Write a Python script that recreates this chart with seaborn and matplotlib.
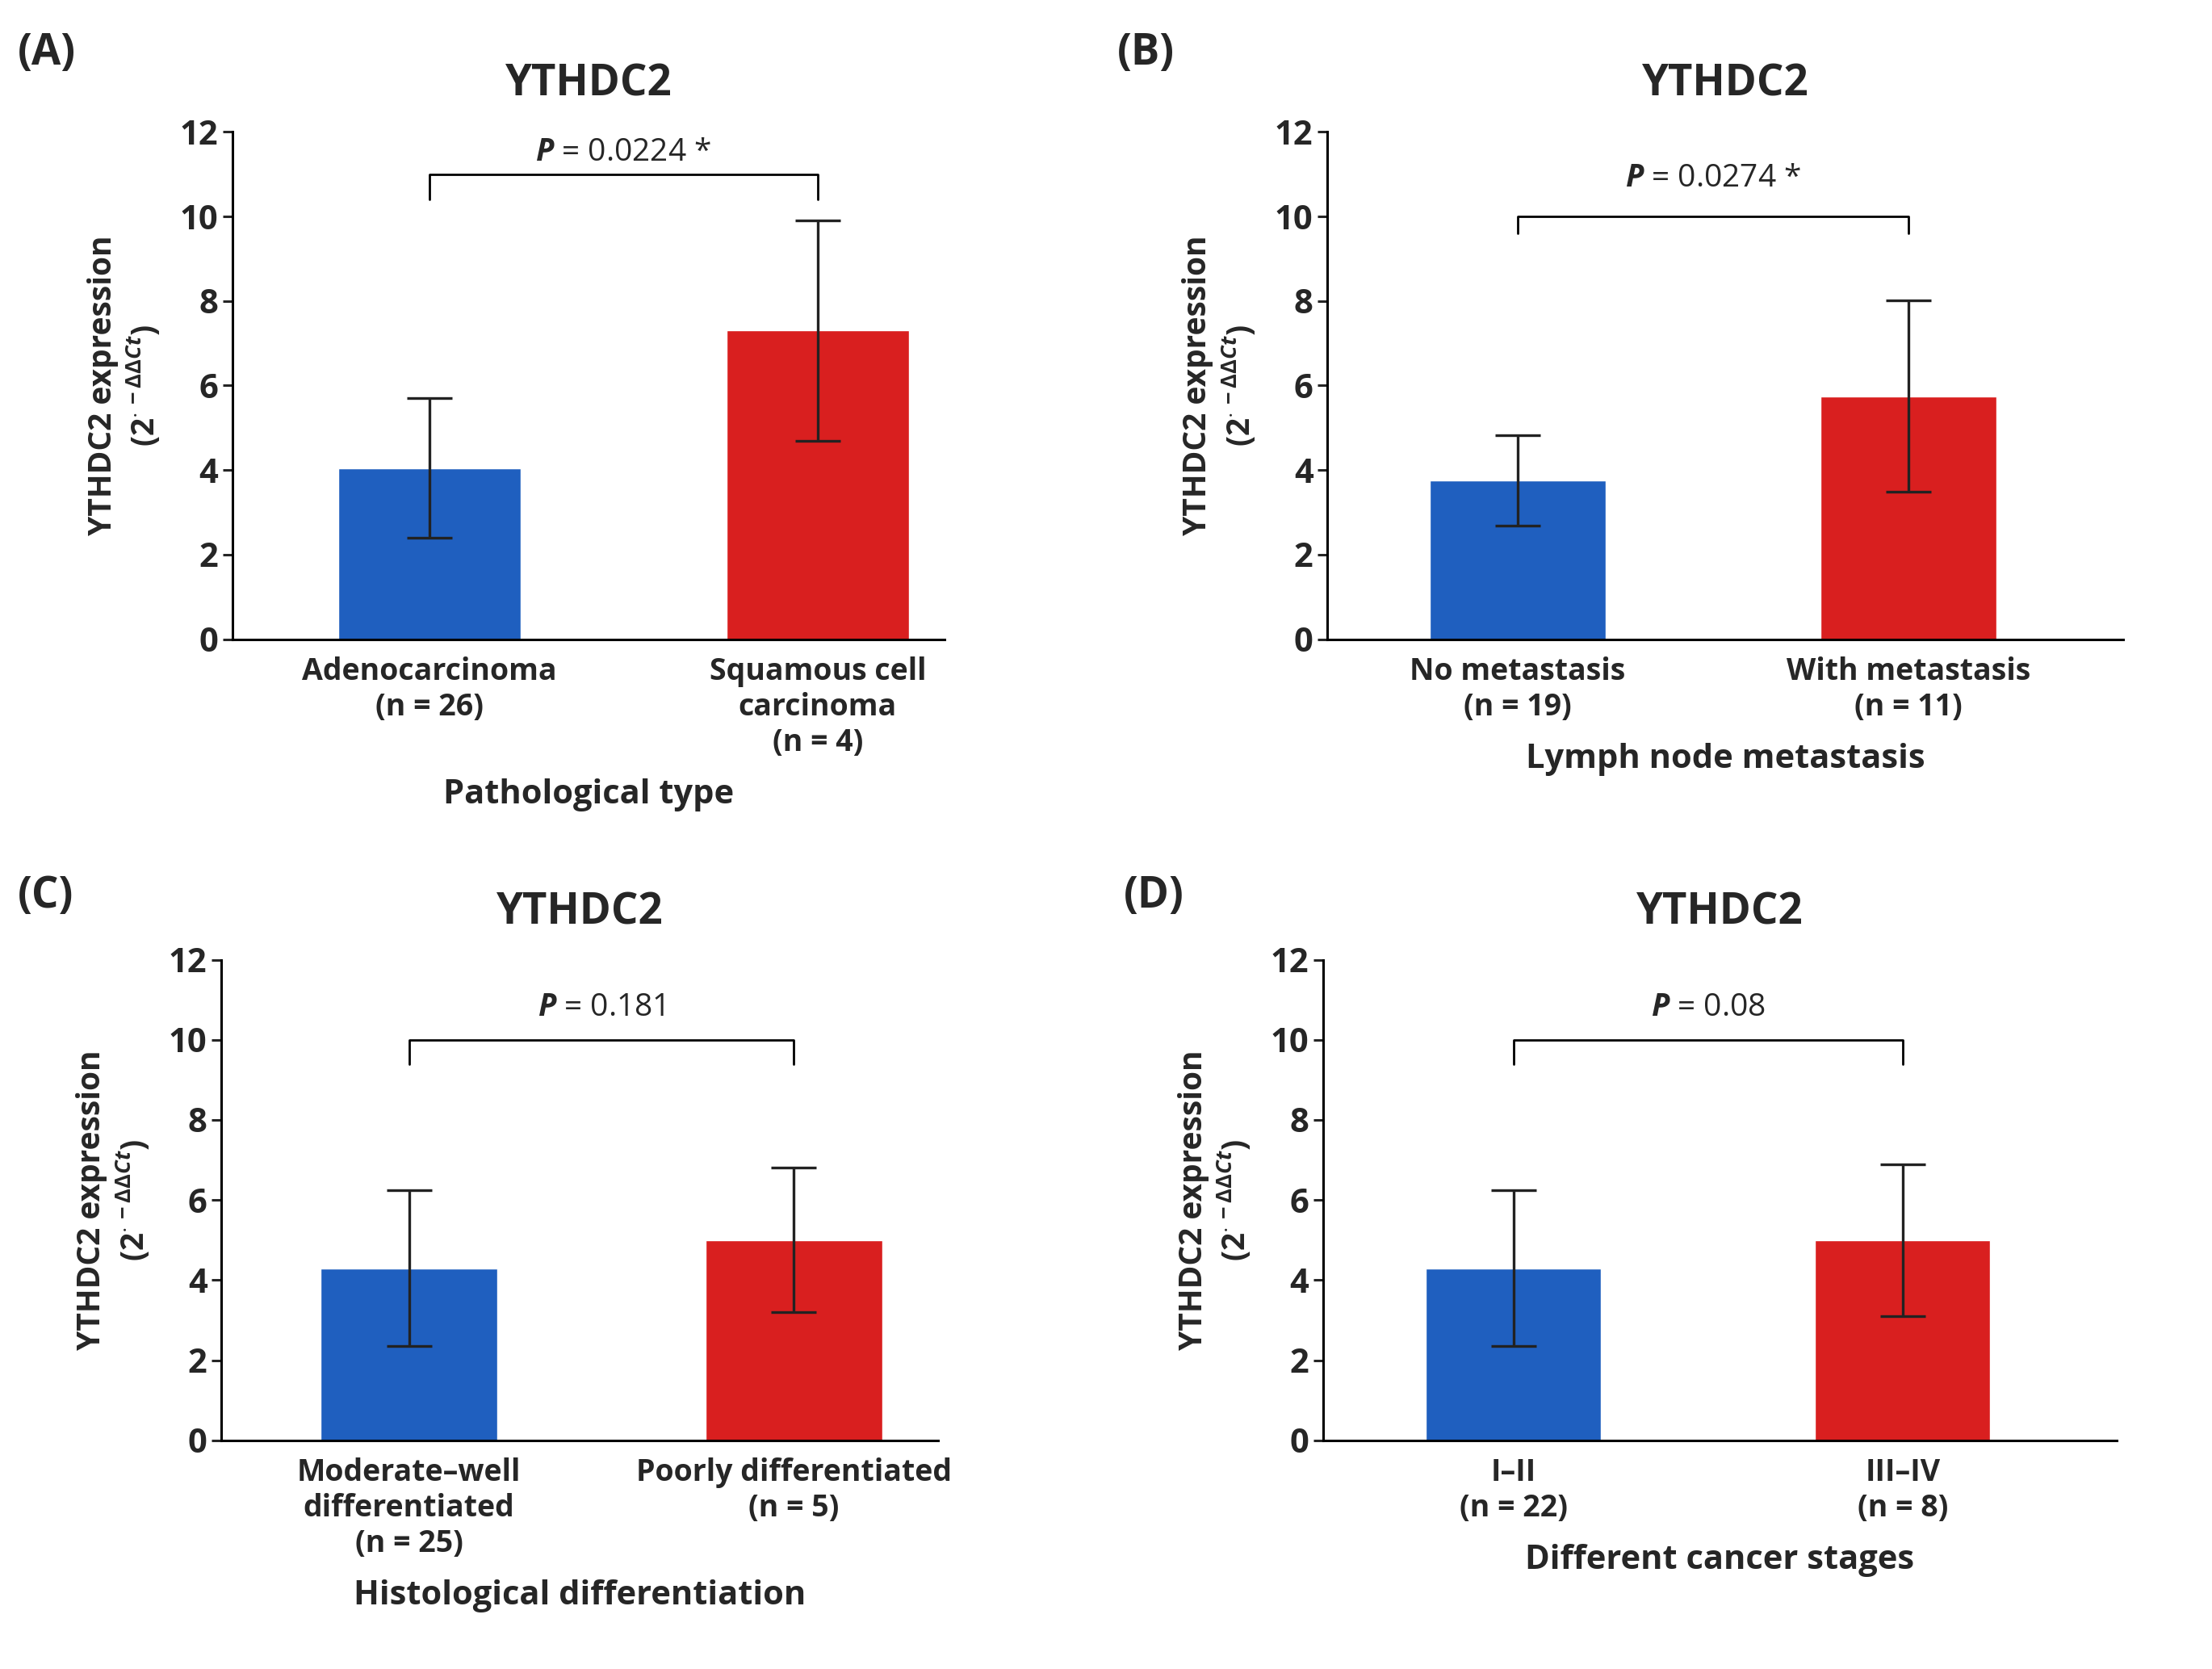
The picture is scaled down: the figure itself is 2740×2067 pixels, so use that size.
import matplotlib
matplotlib.use("Agg")
import matplotlib.pyplot as plt
import seaborn as sns
import pandas as pd

sns.set_style("white")
plt.rcParams['font.family'] = ['Open Sans', 'DejaVu Sans']
plt.rcParams['font.weight'] = 'bold'
plt.rcParams['mathtext.fontset'] = 'custom'
plt.rcParams['mathtext.it'] = 'Open Sans:italic'
plt.rcParams['mathtext.rm'] = 'Open Sans:bold'

# Data
panel_letters = ["(A)", "(B)", "(C)", "(D)"]
a_groups = ["Adenocarcinoma\n(n = 26)", "Squamous cell\ncarcinoma\n(n = 4)"]
a_means = [4.05, 7.3]
a_err = [1.65, 2.6]
b_groups = ["No metastasis\n(n = 19)", "With metastasis\n(n = 11)"]
b_means = [3.75, 5.75]
b_err = [1.07, 2.27]
c_groups = ["Moderate\u2013well\ndifferentiated\n(n = 25)", "Poorly differentiated\n(n = 5)"]
c_means = [4.3, 5.0]
c_err = [1.95, 1.8]
d_groups = ["I\u2013II\n(n = 22)", "III\u2013IV\n(n = 8)"]
d_means = [4.3, 5.0]
d_err = [1.95, 1.9]
xlabels = ["Pathological type", "Lymph node metastasis",
           "Histological differentiation", "Different cancer stages"]
pvals = ["0.0224 *", "0.0274 *", "0.181", "0.08"]
brackets = [(10.4, 11.0, 11.5), (9.6, 10.0, 10.9), (9.4, 10.0, 10.8), (9.4, 10.0, 10.8)]

panels = [(a_groups, a_means, a_err), (b_groups, b_means, b_err),
          (c_groups, c_means, c_err), (d_groups, d_means, d_err)]
boxes = [(0.105, 0.617, 0.322, 0.304), (0.600, 0.617, 0.360, 0.304),
         (0.100, 0.137, 0.324, 0.288), (0.598, 0.137, 0.359, 0.288)]
xlims = [(-0.508, 1.327), (-0.487, 1.55), (-0.488, 1.374), (-0.49, 1.55)]
widths = [0.47, 0.45, 0.46, 0.45]
letter_pos = [(0.008, 0.955), (0.505, 0.955), (0.008, 0.45), (0.508, 0.45)]
colors = ["#1f5fbf", "#d91f1f"]

fig = plt.figure(figsize=(27.4, 20.67), dpi=100)
for i, (groups, means, err) in enumerate(panels):
    ax = fig.add_axes(boxes[i])
    df = pd.DataFrame({"group": groups, "value": means})
    sns.barplot(data=df, x="group", y="value", hue="group", palette=colors,
                width=widths[i], legend=False, ax=ax, saturation=1)
    ax.errorbar([0, 1], means, yerr=err, fmt="none", ecolor="#222222",
                elinewidth=2.4, capsize=20, capthick=2.4)
    ax.set_xlim(*xlims[i])
    ax.set_ylim(0, 12)
    ax.set_yticks(range(0, 13, 2))
    for s in ["top", "right"]:
        ax.spines[s].set_visible(False)
    for s in ["left", "bottom"]:
        ax.spines[s].set_color("black")
        ax.spines[s].set_linewidth(2.2)
    ax.tick_params(axis="y", left=True, length=9, width=2.2, labelsize=30)
    ax.tick_params(axis="x", bottom=False, labelsize=27, pad=12)
    ax.set_xlabel(xlabels[i], fontsize=30, fontweight="bold", labelpad=18)
    ax.set_ylabel("YTHDC2 expression\n(2$^{\\cdot\\,-\\Delta\\Delta Ct}$)",
                  fontsize=28, fontweight="bold", labelpad=16)
    ax.set_title("YTHDC2", fontsize=38, fontweight="bold", pad=32)
    lo, hi, ty = brackets[i]
    ax.plot([0, 0, 1, 1], [lo, hi, hi, lo], color="black", lw=2, clip_on=False)
    ax.text(0.5, ty, "$\\mathit{P}$ = " + pvals[i], ha="center", va="center",
            fontsize=28, fontweight="normal")
    fig.text(letter_pos[i][0], letter_pos[i][1], panel_letters[i],
             fontsize=38, fontweight="bold", va="bottom")

fig.savefig("out.png", dpi=100, facecolor="white")
